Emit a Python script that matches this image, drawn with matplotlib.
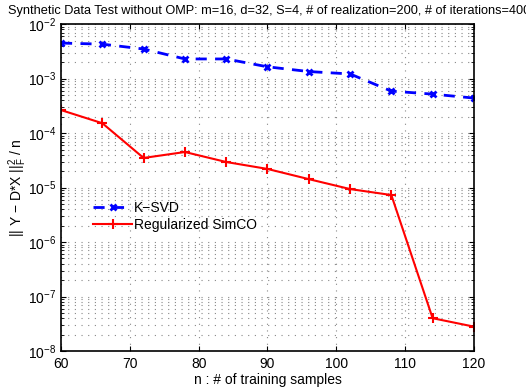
import matplotlib
matplotlib.use("Agg")
import matplotlib.pyplot as plt
from matplotlib.ticker import LogLocator, NullFormatter, MultipleLocator

plt.rcParams['font.family'] = ['Liberation Sans', 'DejaVu Sans']
plt.rcParams['mathtext.fontset'] = 'custom'
plt.rcParams['mathtext.rm'] = 'Liberation Sans'
plt.rcParams['mathtext.it'] = 'Liberation Sans'

n_samples = [60, 66, 72, 78, 84, 90, 96, 102, 108, 114, 120]
ksvd = [4.5e-3, 4.3e-3, 3.5e-3, 2.3e-3, 2.3e-3, 1.65e-3, 1.35e-3, 1.22e-3, 5.9e-4, 5.2e-4, 4.4e-4]
simco = [2.65e-4, 1.52e-4, 3.5e-5, 4.5e-5, 2.95e-5, 2.2e-5, 1.43e-5, 9.4e-6, 7.3e-6, 4.0e-8, 2.8e-8]

fig = plt.figure(figsize=(5.26, 3.9), dpi=100)
ax = fig.add_axes([0.116, 0.1, 0.785, 0.838])

ax.semilogy(n_samples, ksvd, color='blue', linestyle=(0, (4, 3)), linewidth=2,
            marker='x', markersize=5, markeredgewidth=2, label='K\u2212SVD')
ax.semilogy(n_samples, simco, color='red', linestyle='-', linewidth=1.5,
            marker='+', markersize=7, markeredgewidth=1.5, label='Regularized SimCO')

ax.set_xlim(60, 120)
ax.set_ylim(1e-8, 1e-2)
ax.xaxis.set_major_locator(MultipleLocator(10))
ax.yaxis.set_major_locator(LogLocator(base=10, numticks=10))
ax.yaxis.set_minor_locator(LogLocator(base=10, subs=range(2, 10), numticks=100))
ax.yaxis.set_minor_formatter(NullFormatter())

grid_style = dict(linestyle=(0, (1, 5)), color='#888888', linewidth=0.8)
ax.grid(True, which='major', **grid_style)
ax.grid(True, which='minor', axis='y', **grid_style)
ax.tick_params(which='both', direction='in', top=True, right=True, labelsize=10)
ax.tick_params(axis='x', pad=4)
for s in ax.spines.values():
    s.set_linewidth(1.2)

ax.set_xlabel('n : # of training samples', fontsize=10, labelpad=2)
ax.set_ylabel(r'|| Y $-$ D*X $||_F^2$ / n', fontsize=10, labelpad=-1)
ax.set_title('Synthetic Data Test without OMP: m=16, d=32, S=4, # of realization=200, # of iterations=400',
             fontsize=9.2, loc='left', x=-0.128, pad=7)

ax.legend(loc='upper left', bbox_to_anchor=(0.065, 0.475), frameon=False, fontsize=10,
          handlelength=2.8, borderaxespad=0, labelspacing=0.2, handletextpad=0.1)

fig.savefig('out.png', dpi=100)
